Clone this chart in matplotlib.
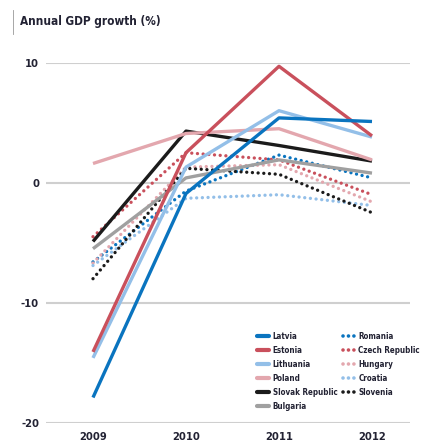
import matplotlib
matplotlib.use("Agg")
import matplotlib.pyplot as plt
from matplotlib.lines import Line2D

years = [2009, 2010, 2011, 2012]

solid_names = ["Latvia", "Estonia", "Lithuania", "Poland", "Slovak Republic", "Bulgaria"]
latvia = [-17.9, -0.9, 5.4, 5.1]
estonia = [-14.1, 2.5, 9.7, 3.9]
lithuania = [-14.6, 1.3, 6.0, 3.8]
poland = [1.6, 4.1, 4.5, 1.9]
slovak = [-4.9, 4.3, 3.1, 1.8]
bulgaria = [-5.5, 0.4, 1.9, 0.8]

dotted_names = ["Romania", "Czech Republic", "Hungary", "Croatia", "Slovenia"]
romania = [-6.6, -0.7, 2.3, 0.4]
czech = [-4.5, 2.5, 1.9, -1.0]
hungary = [-6.7, 1.3, 1.5, -1.6]
croatia = [-6.9, -1.3, -1.0, -1.9]
slovenia = [-8.0, 1.2, 0.7, -2.5]

yticks = [10, 0, -10, -20]
title = "Annual GDP growth (%)"

BLUE = "#0a74bf"
RED = "#c9505c"
LBLUE = "#93bfe8"
PINK = "#e3a7ae"
BLACK = "#1b1b1b"
GRAY = "#a0a0a0"

plt.rcParams["font.family"] = ["DejaVu Sans"]
plt.rcParams["font.stretch"] = "condensed"
plt.rcParams["font.weight"] = "bold"

fig = plt.figure(figsize=(4.23, 4.48), dpi=100)
W, H = 423, 448
left, right, top, bottom = 46, 410, 62.7, 422.7
ax = fig.add_axes([left / W, 1 - bottom / H, (right - left) / W, (bottom - top) / H])

x0 = 2009 - (93 - left) / 93.0
x1 = 2012 + (right - 372) / 93.0
ax.set_xlim(x0, x1)
ax.set_ylim(-20, 10)

for y in yticks:
    ax.axhline(y, color="#cfcfcf", lw=1.5, zorder=0)

dot_style = (0, (0.01, 1.7))
dotted = [(romania, BLUE), (czech, RED), (hungary, PINK), (croatia, LBLUE), (slovenia, BLACK)]
handles_dot = []
for (vals, col), name in zip(dotted, dotted_names):
    ax.plot(years, vals, color=col, lw=2.4, linestyle=dot_style, dash_capstyle="round",
            clip_on=False, zorder=2)
    handles_dot.append(Line2D([], [], color=col, lw=2.6, linestyle=(0, (0.01, 1.5)),
                              dash_capstyle="round", label=name))

solids = [(latvia, BLUE), (estonia, RED), (lithuania, LBLUE), (poland, PINK),
          (slovak, BLACK), (bulgaria, GRAY)]
handles_sol = []
draw_order = [5, 4, 3, 2, 1, 0]
for i in draw_order:
    vals, col = solids[i]
    ax.plot(years, vals, color=col, lw=2.4, solid_capstyle="butt", clip_on=False,
            zorder=3 + (5 - i) * 0.1)
for (vals, col), name in zip(solids, solid_names):
    handles_sol.append(Line2D([], [], color=col, lw=3.0, solid_capstyle="round", label=name))

for s in ax.spines.values():
    s.set_visible(False)
ax.set_yticks(yticks)
ax.set_yticklabels([str(t) for t in yticks])
ax.set_xticks(years)
ax.set_xticklabels([str(y) for y in years])
ax.tick_params(axis="both", length=0, labelsize=8, colors="#222233")
ax.tick_params(axis="y", pad=5)
ax.tick_params(axis="x", pad=7)

fig.text(20 / W, 1 - 22 / H, title, fontsize=8.5, fontweight="bold", color="#222233",
         va="center", ha="left")
fig.add_artist(Line2D([13 / W, 13 / W], [1 - 10 / H, 1 - 34 / H], color="#999999", lw=0.6))

leg = fig.legend(handles=handles_sol + handles_dot, ncol=2,
                 loc="upper left", bbox_to_anchor=(257 / W, 1 - 332 / H),
                 frameon=False, prop=dict(size=5.8, weight="bold", stretch="condensed"),
                 handlelength=1.5, handletextpad=0.45,
                 labelspacing=0.62, columnspacing=0.65, borderpad=0, borderaxespad=0)
for t in leg.get_texts():
    t.set_color("#222233")

fig.savefig("out.png", dpi=100)
